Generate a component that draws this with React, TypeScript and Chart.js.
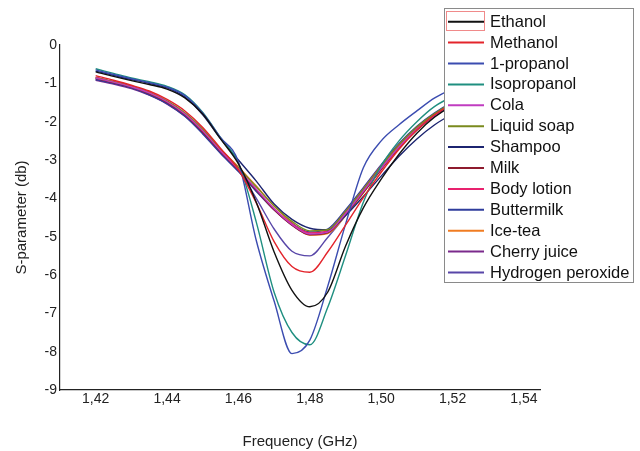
import React, { useEffect, useRef } from "react";
import Chart from "chart.js/auto";

// frequency samples (GHz)
const FREQ = [
  1.42, 1.425, 1.43, 1.435, 1.44, 1.445, 1.45, 1.455, 1.46, 1.465, 1.47, 1.475, 1.48,
  1.485, 1.49, 1.495, 1.5, 1.505, 1.51, 1.515, 1.52, 1.525, 1.53, 1.535, 1.54,
];
const X_TICKS = [1.42, 1.44, 1.46, 1.48, 1.5, 1.52, 1.54];
const Y_TICKS = [0, -1, -2, -3, -4, -5, -6, -7, -8, -9];

const NAMES = [
  "Ethanol", "Methanol", "1-propanol", "Isopropanol", "Cola", "Liquid soap", "Shampoo",
  "Milk", "Body lotion", "Buttermilk", "Ice-tea", "Cherry juice", "Hydrogen peroxide",
];
const COLORS = [
  "#111111", "#e3242b", "#3b4cb0", "#1f8f80", "#c03cc0", "#7a8a1e", "#1c2470",
  "#8e1b2e", "#e8226e", "#2f3d9c", "#f07c22", "#7b2a8c", "#5846a8",
];

// S-parameter (dB)
const ETHANOL = [-0.7, -0.82, -0.93, -1.03, -1.15, -1.38, -1.8, -2.45, -3.1, -4.1, -5.4, -6.4, -6.83, -6.45, -5.25, -4.25, -3.5, -2.85, -2.3, -1.88, -1.58, -1.38, -1.22, -1.12, -1.04];
const METHANOL = [-0.8, -0.92, -1.05, -1.2, -1.42, -1.72, -2.15, -2.7, -3.25, -4.12, -5.13, -5.78, -5.93, -5.4, -4.7, -3.98, -3.32, -2.72, -2.22, -1.82, -1.54, -1.34, -1.19, -1.09, -1.01];
const PROPANOL = [-0.65, -0.77, -0.88, -0.98, -1.1, -1.32, -1.78, -2.42, -3.05, -5.1, -6.68, -8.05, -7.7, -6.3, -4.68, -3.2, -2.5, -2.08, -1.72, -1.38, -1.15, -1.0, -0.9, -0.82, -0.76];
const ISOPROPANOL = [-0.62, -0.74, -0.86, -0.96, -1.08, -1.3, -1.76, -2.42, -3.08, -4.62, -6.45, -7.5, -7.82, -6.85, -5.5, -4.1, -3.15, -2.5, -2.0, -1.6, -1.35, -1.18, -1.05, -0.96, -0.89];
const COLA = [-0.86, -0.97, -1.09, -1.25, -1.48, -1.8, -2.24, -2.76, -3.24, -3.76, -4.27, -4.68, -4.93, -4.88, -4.4, -3.82, -3.22, -2.66, -2.2, -1.84, -1.55, -1.35, -1.2, -1.1, -1.02];
const LIQUID_SOAP = [-0.85, -0.96, -1.08, -1.24, -1.46, -1.77, -2.2, -2.72, -3.2, -3.7, -4.2, -4.6, -4.85, -4.82, -4.34, -3.76, -3.16, -2.6, -2.14, -1.79, -1.5, -1.31, -1.17, -1.07, -1.0];
const SHAMPOO = [-0.68, -0.79, -0.9, -1.0, -1.12, -1.36, -1.82, -2.45, -3.0, -3.55, -4.15, -4.55, -4.78, -4.82, -4.45, -3.95, -3.42, -2.9, -2.45, -2.08, -1.8, -1.58, -1.42, -1.3, -1.2];
const MILK = [-0.87, -0.98, -1.1, -1.27, -1.5, -1.82, -2.27, -2.78, -3.26, -3.78, -4.3, -4.7, -4.95, -4.9, -4.42, -3.85, -3.25, -2.68, -2.22, -1.86, -1.57, -1.37, -1.22, -1.12, -1.04];
const BODY_LOTION = [-0.84, -0.95, -1.07, -1.23, -1.47, -1.8, -2.25, -2.77, -3.25, -3.77, -4.28, -4.66, -4.9, -4.84, -4.35, -3.76, -3.15, -2.6, -2.15, -1.8, -1.52, -1.33, -1.19, -1.09, -1.01];
const BUTTERMILK = [-0.9, -1.0, -1.12, -1.3, -1.53, -1.86, -2.32, -2.83, -3.3, -3.82, -4.3, -4.66, -4.88, -4.8, -4.3, -3.72, -3.12, -2.57, -2.12, -1.77, -1.5, -1.31, -1.17, -1.08, -1.0];
const ICE_TEA = [-0.86, -0.97, -1.09, -1.26, -1.49, -1.8, -2.22, -2.72, -3.18, -3.68, -4.2, -4.64, -4.96, -4.92, -4.45, -3.86, -3.24, -2.66, -2.2, -1.84, -1.55, -1.35, -1.2, -1.1, -1.02];
const CHERRY_JUICE = [-0.92, -1.02, -1.14, -1.31, -1.54, -1.86, -2.3, -2.81, -3.29, -3.8, -4.3, -4.7, -4.94, -4.86, -4.36, -3.78, -3.18, -2.63, -2.18, -1.82, -1.54, -1.34, -1.19, -1.09, -1.01];
const H2O2 = [-0.9, -1.0, -1.12, -1.29, -1.52, -1.84, -2.28, -2.79, -3.27, -4.0, -4.8, -5.38, -5.5, -5.02, -4.45, -3.82, -3.18, -2.62, -2.15, -1.8, -1.52, -1.33, -1.19, -1.09, -1.01];

const SERIES = [
  ETHANOL, METHANOL, PROPANOL, ISOPROPANOL, COLA, LIQUID_SOAP, SHAMPOO,
  MILK, BODY_LOTION, BUTTERMILK, ICE_TEA, CHERRY_JUICE, H2O2,
];

const FONT = "'Liberation Sans', Arial, sans-serif";

// boxed legend drawn on top of the plot, like the original figure
const boxLegend = {
  id: "boxLegend",
  afterDraw(chart: any) {
    const ctx = chart.ctx as CanvasRenderingContext2D;
    const left = 444;
    const top = 8;
    const w = 189;
    const h = 274;
    const row = 20.9;
    ctx.save();
    ctx.fillStyle = "#ffffff";
    ctx.fillRect(left, top, w, h);
    ctx.strokeStyle = "#8a8a8a";
    ctx.lineWidth = 1;
    ctx.strokeRect(left + 0.5, top + 0.5, w, h);
    ctx.font = "16.5px " + FONT;
    ctx.textBaseline = "middle";
    chart.data.datasets.forEach((ds: any, i: number) => {
      const y = top + 13.7 + i * row;
      ctx.strokeStyle = ds.borderColor;
      ctx.lineWidth = 2;
      ctx.beginPath();
      ctx.moveTo(448, y);
      ctx.lineTo(484, y);
      ctx.stroke();
      ctx.fillStyle = "#111111";
      ctx.fillText(ds.label, 490, y + 0.5);
    });
    // selection frame around the first sample
    ctx.strokeStyle = "#f08a8a";
    ctx.lineWidth = 1;
    ctx.strokeRect(446.5, 11.5, 38, 19);
    ctx.restore();
  },
};

const App = () => {
  const chartRef = useRef<HTMLCanvasElement | null>(null);

  useEffect(() => {
    if (!chartRef.current) return;

    const datasets = SERIES.map((vals, i) => ({
      label: NAMES[i],
      data: FREQ.map((f, j) => ({ x: f, y: vals[j] })),
      borderColor: COLORS[i],
      backgroundColor: COLORS[i],
      borderWidth: 1.4,
      pointRadius: 0,
      cubicInterpolationMode: "monotone" as const,
      fill: false,
    }));

    const chart = new Chart(chartRef.current, {
      type: "line",
      data: { datasets },
      options: {
        responsive: false,
        animation: false,
        layout: { padding: { left: 10, top: 45, right: 100, bottom: 0 } },
        plugins: {
          legend: { display: false },
          tooltip: { enabled: false },
        },
        scales: {
          x: {
            type: "linear",
            min: 1.41,
            max: 1.5445,
            grid: { display: false, drawTicks: false },
            border: { display: true, color: "#222222", width: 1.2 },
            afterBuildTicks: (scale: any) => {
              scale.ticks = X_TICKS.map((v) => ({ value: v }));
            },
            afterFit: (scale: any) => {
              scale.height = 61;
            },
            ticks: {
              padding: 1,
              color: "#222222",
              font: { family: FONT, size: 14 },
              maxRotation: 0,
              callback: (v: any) => Number(v).toFixed(2).replace(".", ","),
            },
            title: {
              display: true,
              text: "Frequency (GHz)",
              color: "#222222",
              padding: { top: 4, bottom: 0 },
              font: { family: FONT, size: 15 },
            },
          },
          y: {
            type: "linear",
            min: -9,
            max: 0,
            grid: { display: false, drawTicks: false },
            border: { display: true, color: "#222222", width: 1.2 },
            afterBuildTicks: (scale: any) => {
              scale.ticks = Y_TICKS.map((v) => ({ value: v }));
            },
            afterFit: (scale: any) => {
              scale.width = 50;
            },
            ticks: {
              padding: 3,
              color: "#222222",
              font: { family: FONT, size: 14 },
            },
            title: {
              display: true,
              text: "S-parameter (db)",
              color: "#222222",
              padding: { top: 3, bottom: 4 },
              font: { family: FONT, size: 15 },
            },
          },
        },
      },
      plugins: [boxLegend],
    });

    return () => {
      chart.destroy();
    };
  }, []);

  return (
    <div style={{ position: "fixed", left: 0, top: 0, width: 640, height: 451, background: "#fff" }}>
      <canvas ref={chartRef} width={640} height={451} />
    </div>
  );
};

export default App;
